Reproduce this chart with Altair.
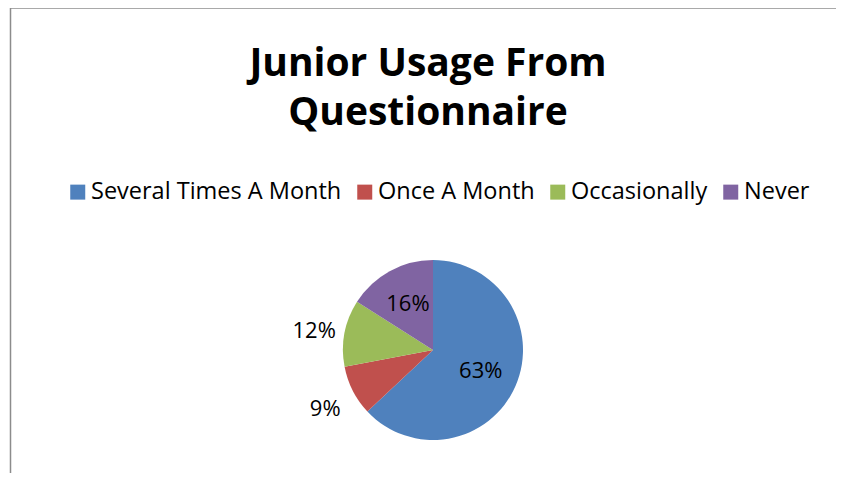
import altair as alt
import pandas as pd

categories = ["Several Times A Month", "Once A Month", "Occasionally", "Never"]
values = [63, 9, 12, 16]
colors = ["#4F81BD", "#C0504D", "#9BBB59", "#8064A2"]
title_lines = ["Junior Usage From", "Questionnaire"]

df = pd.DataFrame({
    "category": categories,
    "value": values,
    "order": list(range(len(categories))),
})
df["label"] = df["value"].astype(str) + "%"

FONT = "Open Sans"
W, H = 828, 465
CX, CY = 425, 342

base = alt.Chart(df)

theta = alt.Theta("value:Q", stack=True)
order = alt.Order("order:Q")

pie = base.mark_arc(radius=90, stroke=None).encode(
    theta=theta,
    order=order,
    x=alt.value(CX),
    y=alt.value(CY),
    color=alt.Color(
        "category:N",
        scale=alt.Scale(domain=categories, range=colors),
        sort=categories,
        legend=alt.Legend(
            title=None,
            orient="none",
            direction="horizontal",
            legendX=58,
            legendY=172,
            symbolType="square",
            symbolSize=225,
            symbolStrokeWidth=0,
            labelFont=FONT,
            labelFontSize=23.5,
            labelColor="#000000",
            columnPadding=11,
            symbolOffset=0,
            labelOffset=1.5,
            labelLimit=400,
        ),
    ),
)

inner = base.mark_text(radius=52, font=FONT, fontSize=22).encode(
    theta=theta, order=order, x=alt.value(CX), y=alt.value(CY), text="label:N",
    color=alt.condition("datum.value >= 15", alt.value("#000000"), alt.value("transparent")),
)

outer = base.mark_text(radius=121, font=FONT, fontSize=22, dy=4).encode(
    theta=theta, order=order, x=alt.value(CX), y=alt.value(CY), text="label:N",
    color=alt.condition("datum.value < 15", alt.value("#000000"), alt.value("transparent")),
)

one = alt.Data(values=[{"a": 1}])

title = alt.Chart(one).mark_text(
    text=title_lines, font=FONT, fontSize=39, fontWeight="bold",
    align="center", baseline="alphabetic", lineHeight=49, color="#000000",
).encode(x=alt.value(420), y=alt.value(68))

top_rule = alt.Chart(one).mark_rule(color="#8c8c8c", strokeWidth=1.5).encode(
    x=alt.value(2), x2=alt.value(W), y=alt.value(0)
)
left_rule = alt.Chart(one).mark_rule(color="#8c8c8c", strokeWidth=1.5).encode(
    x=alt.value(2.5), y=alt.value(0), y2=alt.value(H)
)

chart = alt.layer(pie, inner, outer, title, top_rule, left_rule).properties(
    width=W, height=H, autosize=alt.AutoSizeParams(type="none"), padding=0,
    background="#ffffff",
).configure_view(stroke=None)

chart.save("out.html", embed_options={"renderer": "svg", "actions": False})
